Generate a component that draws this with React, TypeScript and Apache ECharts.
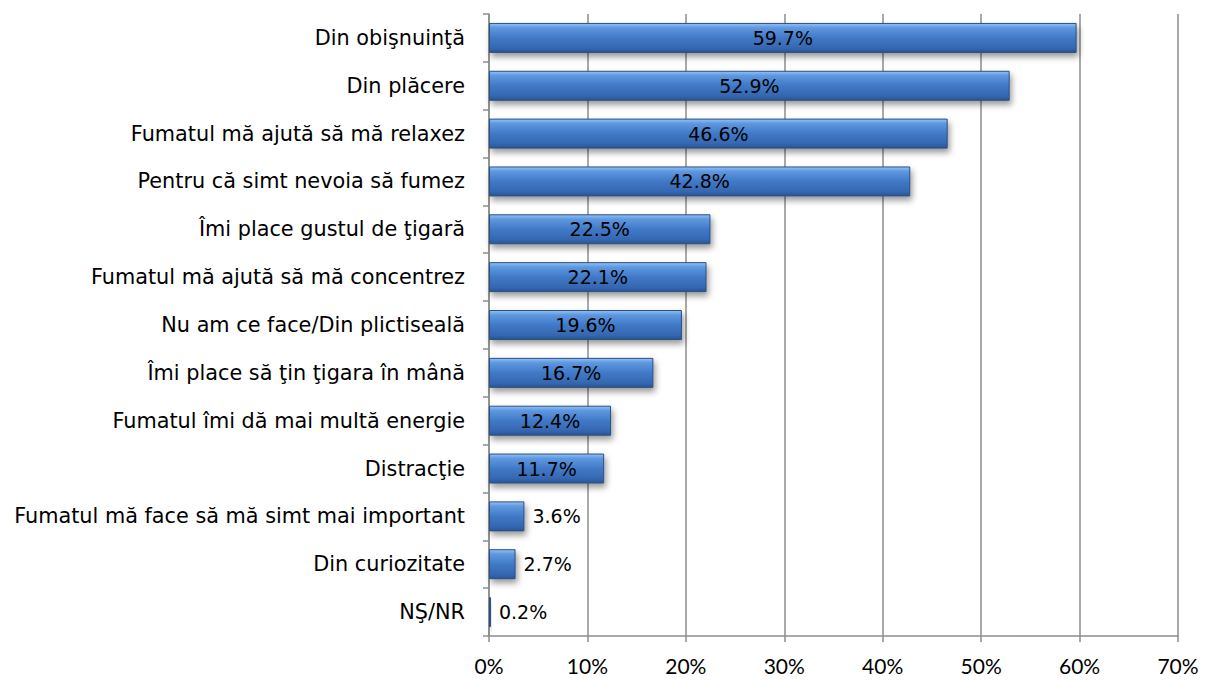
import React, { useEffect, useRef } from "react";
import * as echarts from "echarts";

const categories = [
  "Din obişnuinţă",
  "Din plăcere",
  "Fumatul mă ajută să mă relaxez",
  "Pentru că simt nevoia să fumez",
  "Îmi place gustul de ţigară",
  "Fumatul mă ajută să mă concentrez",
  "Nu am ce face/Din plictiseală",
  "Îmi place să ţin ţigara în mână",
  "Fumatul îmi dă mai multă energie",
  "Distracţie",
  "Fumatul mă face să mă simt mai important",
  "Din curiozitate",
  "NŞ/NR",
];
const values = [59.7, 52.9, 46.6, 42.8, 22.5, 22.1, 19.6, 16.7, 12.4, 11.7, 3.6, 2.7, 0.2];
const xTicks = [0, 10, 20, 30, 40, 50, 60, 70];

export default function App() {
  const ref = useRef<HTMLDivElement>(null);
  useEffect(() => {
    if (!ref.current) return;
    const chart = echarts.init(ref.current, null, { renderer: "svg" });
    const grad = new echarts.graphic.LinearGradient(0, 0, 0, 1, [
      { offset: 0, color: "#92c2f5" },
      { offset: 0.15, color: "#5f98e0" },
      { offset: 0.5, color: "#4079c7" },
      { offset: 0.85, color: "#3567b0" },
      { offset: 1, color: "#2a548f" },
    ]);
    const data = values.map((v) => ({
      value: v,
      label:
        v > 10
          ? { position: "inside" as const }
          : { position: "right" as const, distance: 8 },
    }));
    chart.setOption({
      animation: false,
      grid: { left: 489, right: 27, top: 14, bottom: 52, containLabel: false },
      xAxis: {
        type: "value",
        min: 0,
        max: xTicks[xTicks.length - 1],
        interval: 10,
        axisLine: { show: true, lineStyle: { color: "#8c8c8c", width: 1.5 } },
        axisTick: { show: true, length: 6, lineStyle: { color: "#8c8c8c", width: 1.5 } },
        splitLine: { show: true, lineStyle: { color: "#8c8c8c", width: 1.5 } },
        axisLabel: {
          formatter: (v: number) => v + "%",
          fontFamily: "Lato, 'Open Sans', sans-serif",
          fontSize: 21,
          color: "#000",
          margin: 19,
        },
      },
      yAxis: {
        type: "category",
        inverse: true,
        data: categories,
        axisLine: { show: true, lineStyle: { color: "#8c8c8c", width: 1.5 } },
        axisTick: { show: true, length: 6, lineStyle: { color: "#8c8c8c", width: 1.5 } },
        axisLabel: {
          fontFamily: "'DejaVu Sans', sans-serif",
          fontSize: 20.8,
          color: "#000",
          margin: 24,
        },
      },
      series: [
        {
          type: "bar",
          data,
          barWidth: 30,
          itemStyle: {
            color: grad,
            borderColor: "#2b4f82",
            borderWidth: 1,
            shadowColor: "rgba(0,0,0,0.4)",
            shadowBlur: 6,
            shadowOffsetX: 2,
            shadowOffsetY: 4,
          },
          label: {
            show: true,
            formatter: (p: any) => p.value.toFixed(1) + "%",
            fontFamily: "'DejaVu Sans', sans-serif",
            fontSize: 19,
            color: "#000",
          },
        },
      ],
    });
    return () => chart.dispose();
  }, []);
  return (
    <div
      ref={ref}
      style={{ position: "fixed", left: 0, top: 0, width: 1205, height: 688, background: "#fff" }}
    />
  );
}
